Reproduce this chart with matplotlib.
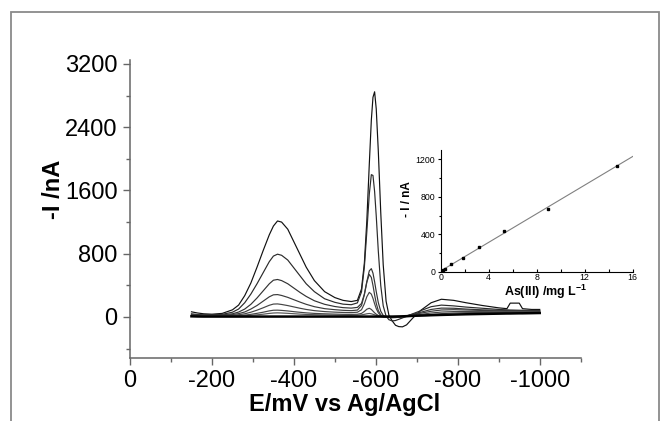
import matplotlib
matplotlib.use("Agg")
import matplotlib.pyplot as plt
import numpy as np
from matplotlib.patches import Rectangle
from matplotlib.ticker import MultipleLocator

plt.rcParams["font.family"] = ["Liberation Sans", "DejaVu Sans"]
plt.rcParams["axes.unicode_minus"] = False

# potential grid (mV) shared by all scans
E = [-150, -165, -180, -200, -225, -250, -265, -280, -295, -310,
     -325, -340, -350, -360, -370, -385, -400, -415, -430, -450,
     -475, -500, -520, -540, -555, -565, -572, -578, -584, -589,
     -593, -597, -601, -606, -612, -618, -625, -632, -640, -648,
     -656, -665, -675, -690, -710, -735, -760, -790, -820, -860,
     -900, -920, -928, -950, -958, -980, -1000]

# -I (nA) for each concentration, highest first
c1 = [65, 50, 40, 35, 45, 90, 150, 270, 430, 630,
      840, 1040, 1150, 1214, 1200, 1110, 950, 790, 630, 460,
      320, 245, 210, 195, 210, 354, 682, 1215, 1930, 2490,
      2778, 2848, 2630, 2100, 1320, 660, 200, 20, -50, -105,
      -122, -125, -100, -15, 85, 180, 224, 210, 180, 145,
      115, 105, 175, 175, 105, 95, 95]
c2 = [40, 30, 28, 28, 33, 60, 100, 180, 290, 420,
      560, 700, 770, 794, 780, 720, 620, 520, 420, 320,
      230, 185, 162, 155, 178, 317, 631, 1077, 1552, 1800,
      1790, 1586, 1276, 835, 397, 141, 10, -35, -50, -45,
      -30, -12, 8, 40, 80, 130, 150, 140, 125, 110,
      95, 90, 88, 85, 85, 83, 82]
c3 = [30, 25, 22, 22, 26, 40, 62, 100, 160, 240,
      330, 420, 465, 474, 460, 420, 365, 310, 260, 205,
      160, 132, 118, 112, 121, 171, 290, 447, 583, 611,
      554, 445, 320, 182, 72, 20, 0, -8, -10, -8,
      -3, 5, 15, 35, 60, 95, 112, 110, 100, 90,
      85, 82, 80, 80, 80, 78, 78]
c4 = [25, 20, 18, 18, 21, 30, 42, 63, 100, 145,
      200, 255, 280, 283, 272, 248, 218, 188, 160, 130,
      105, 92, 84, 80, 87, 144, 280, 440, 538, 500,
      399, 279, 173, 81, 27, 5, 0, -3, -3, 0,
      3, 8, 14, 28, 48, 72, 88, 92, 88, 82,
      78, 76, 75, 74, 74, 73, 72]
c5 = [20, 16, 14, 14, 16, 21, 28, 40, 60, 86,
      116, 148, 163, 165, 158, 144, 127, 110, 95, 80,
      68, 61, 57, 55, 60, 91, 166, 256, 311, 289,
      235, 167, 106, 53, 19, 4, 0, -2, -2, 0,
      3, 6, 10, 20, 33, 50, 62, 68, 68, 67,
      66, 66, 65, 65, 65, 65, 65]
c6 = [15, 12, 10, 10, 11, 14, 17, 23, 33, 46,
      60, 77, 85, 86, 83, 76, 67, 59, 52, 45,
      40, 36, 33, 32, 34, 45, 70, 98, 110, 95,
      74, 52, 35, 19, 8, 3, 0, 0, 0, 1,
      2, 4, 7, 12, 20, 32, 42, 50, 54, 56,
      57, 58, 58, 58, 58, 58, 58]
c7 = [12, 10, 9, 9, 9, 11, 13, 16, 21, 27,
      35, 45, 50, 52, 50, 46, 41, 36, 32, 29,
      26, 24, 23, 22, 23, 27, 33, 40, 44, 40,
      34, 27, 20, 12, 6, 2, 0, 0, 0, 1,
      2, 3, 5, 9, 14, 20, 26, 32, 36, 40,
      43, 44, 45, 46, 46, 47, 48]
blank = [8, 6, 5, 5, 5, 5, 5, 5, 5, 5,
         5, 5, 5, 5, 5, 5, 5, 5, 5, 5,
         5, 5, 5, 5, 5, 5, 5, 5, 5, 5,
         5, 5, 5, 5, 5, 5, 5, 5, 5, 6,
         7, 8, 10, 14, 18, 22, 26, 30, 34, 38,
         42, 44, 44, 46, 46, 48, 50]

# calibration (inset)
conc = [0.1, 0.2, 0.4, 0.86, 1.83, 3.16, 5.25, 8.92, 14.7]
peak = [8, 15, 28, 82, 146, 261, 435, 674, 1130]

fig = plt.figure(figsize=(6.61, 4.21), dpi=100)

# grey frame round the figure
fig.patches.append(Rectangle((0.0159, -0.05), 0.981, 1.0215, transform=fig.transFigure,
                             fill=False, edgecolor="#8a8a8a", linewidth=1.3))

ax = fig.add_axes([0.1967, 0.1504, 0.6818, 0.7071])
scans = [c1, c2, c3, c4, c5, c6, c7]
colors = ["#111111", "#2a2a2a", "#333333", "#3a3a3a", "#444444", "#444444", "#555555"]
for y, col in zip(scans, colors):
    ax.plot(E, y, color=col, lw=0.85, solid_joinstyle="round")
ax.plot(E, blank, color="black", lw=1.8)

ax.set_xlim(0, -1100)
ax.set_ylim(-515, 3250)
ax.set_xticks([0, -200, -400, -600, -800, -1000])
ax.xaxis.set_minor_locator(MultipleLocator(100))
ax.set_yticks([0, 800, 1600, 2400, 3200])
ax.yaxis.set_minor_locator(MultipleLocator(400))
for s in ["top", "right"]:
    ax.spines[s].set_visible(False)
for s in ["left", "bottom"]:
    ax.spines[s].set_color("#666666")
    ax.spines[s].set_linewidth(1.1)
ax.tick_params(which="major", direction="out", length=5, width=1, color="#666666",
               labelsize=17, pad=4)
ax.tick_params(which="minor", direction="out", length=3, width=1, color="#666666")
ax.text(0.475, -0.157, "E/mV vs Ag/AgCl", transform=ax.transAxes, ha="center",
        va="center", fontsize=17, fontweight="bold")
ax.text(-0.169, 0.567, "-I /nA", transform=ax.transAxes, ha="center", va="center",
        rotation=90, fontsize=17, fontweight="bold")

# inset calibration plot
ins = fig.add_axes([0.6667, 0.3546, 0.2905, 0.289], facecolor="none")
k, b = np.polyfit(conc, peak, 1)
xf = np.array([0, 16])
ins.plot(xf, k * xf + b, color="#808080", lw=0.8)
ins.plot(conc, peak, "s", color="black", markersize=1.9)
ins.set_xlim(0, 16)
ins.set_ylim(0, 1300)
ins.set_xticks([0, 4, 8, 12, 16])
ins.xaxis.set_minor_locator(MultipleLocator(2))
ins.set_yticks([0, 400, 800, 1200])
ins.yaxis.set_minor_locator(MultipleLocator(200))
for s in ["top", "right"]:
    ins.spines[s].set_visible(False)
ins.tick_params(axis="x", which="both", direction="in", length=2.5, width=0.8,
                labelsize=6.3, pad=1)
ins.tick_params(axis="y", which="major", direction="out", length=2.5, width=0.8,
                labelsize=6.3, pad=1.5)
ins.tick_params(axis="y", which="minor", direction="out", length=1.5, width=0.8)
ins.text(0.548, -0.17, "As(III) /mg L$^{\\mathregular{-1}}$", transform=ins.transAxes,
         ha="center", va="center", fontsize=9, fontweight="bold")
ins.text(-0.175, 0.6, "- I / nA", transform=ins.transAxes, ha="center", va="center",
         rotation=90, fontsize=8.5, fontweight="bold")

fig.savefig("out.png", dpi=100)
